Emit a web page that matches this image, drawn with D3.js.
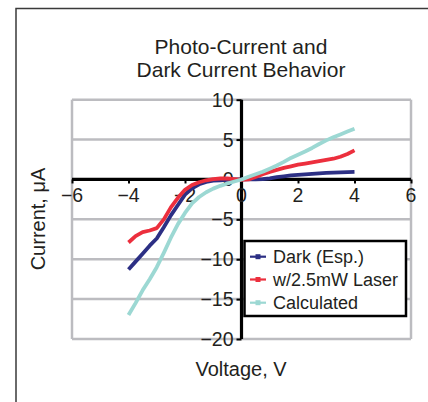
<!DOCTYPE html>
<html>
<head>
<meta charset="utf-8">
<script src="https://cdn.jsdelivr.net/npm/d3@7"></script>
<style>
  html, body { margin: 0; padding: 0; background: #fff; }
  svg { display: block; }
  text { font-family: "Liberation Sans", Arial, Helvetica, sans-serif; fill: #231f20; }
</style>
</head>
<body>
<svg id="chart" width="428" height="402"></svg>
<script>
// ---- data ----
const titleLines = ["Photo-Current and", "Dark Current Behavior"];
const xLabel = "Voltage, V";
const yLabel = "Current, μA";
const xTicks = [-6, -4, -2, 0, 2, 4, 6];
const yTicks = [10, 5, 0, -5, -10, -15, -20];
const seriesNames = ["Dark (Esp.)", "w/2.5mW Laser", "Calculated"];
const seriesColors = ["#2c2f84", "#ec2f3d", "#9cd8d3"];
const voltage = [-4, -3.75, -3.5, -3.25, -3, -2.75, -2.5, -2.25, -2, -1.75, -1.5, -1.25, -1, -0.75, -0.5, -0.25,
  0, 0.25, 0.5, 0.75, 1, 1.25, 1.5, 1.75, 2, 2.25, 2.5, 2.75, 3, 3.25, 3.5, 3.75, 4];
const darkCurrent = [-11.3, -10.3, -9.3, -8.3, -7.4, -6.0, -4.5, -3.2, -1.9, -1.1, -0.6, -0.3, -0.15, -0.1, -0.05, -0.02,
  0, 0, 0.02, 0.05, 0.15, 0.3, 0.4, 0.5, 0.57, 0.63, 0.7, 0.77, 0.82, 0.87, 0.9, 0.93, 0.95];
const laserCurrent = [-7.9, -7.1, -6.6, -6.4, -6.1, -5.0, -3.5, -2.3, -1.3, -0.7, -0.35, -0.1, 0.05, 0.12, 0.12, 0.05,
  -0.05, 0, 0.3, 0.65, 0.95, 1.2, 1.45, 1.65, 1.85, 2.0, 2.15, 2.3, 2.45, 2.6, 2.85, 3.2, 3.65];
const calcCurrent = [-17.0, -15.5, -13.9, -12.5, -11.0, -9.2, -7.3, -5.6, -4.2, -3.0, -2.2, -1.6, -1.15, -0.8, -0.5, -0.25,
  0, 0.35, 0.65, 0.97, 1.35, 1.75, 2.2, 2.7, 3.1, 3.5, 3.95, 4.45, 4.9, 5.3, 5.65, 6.0, 6.35];
const seriesValues = [darkCurrent, laserCurrent, calcCurrent];

// ---- layout ----
const svg = d3.select("#chart");
const x = d3.scaleLinear().domain([-6, 6]).range([72, 411]);
const y = d3.scaleLinear().domain([-20, 10]).range([339, 99.7]);
const gridColor = "#bcbcc0";

// outer frame (left + top)
svg.append("path")
  .attr("d", `M16,402 L16,8.5 L428,8.5`)
  .attr("fill", "none").attr("stroke", "#3a3a3a").attr("stroke-width", 1.5);

// title
svg.append("text")
  .attr("x", 241).attr("y", 53.5)
  .attr("text-anchor", "middle").attr("font-size", 21)
  .selectAll("tspan").data(titleLines).join("tspan")
  .attr("x", 241).attr("dy", (d, i) => i === 0 ? 0 : 23)
  .text(d => d);

// gridlines
svg.append("g").selectAll("line").data(yTicks).join("line")
  .attr("x1", x(-6)).attr("x2", x(6))
  .attr("y1", d => y(d)).attr("y2", d => y(d))
  .attr("stroke", gridColor).attr("stroke-width", 2.5);
// plot border verticals
svg.append("g").selectAll("line").data([-6, 6]).join("line")
  .attr("x1", d => x(d)).attr("x2", d => x(d))
  .attr("y1", y(10)).attr("y2", y(-20))
  .attr("stroke", gridColor).attr("stroke-width", 2.5);

// axes through origin
const xAxis = d3.axisBottom(x).tickValues(xTicks).tickSize(4).tickFormat(() => "");
const gx = svg.append("g").attr("transform", `translate(0,${y(0)})`).call(xAxis);
gx.select(".domain").attr("stroke", "#000").attr("stroke-width", 3.2).attr("d", `M${x(-6)},0H${x(6)}`);
gx.selectAll(".tick line").attr("stroke", "#000").attr("stroke-width", 2);

const yAxis = d3.axisLeft(y).tickValues(yTicks).tickSize(5).tickFormat(() => "");
const gy = svg.append("g").attr("transform", `translate(${x(0)},0)`).call(yAxis);
gy.select(".domain").attr("stroke", "#000").attr("stroke-width", 3.2).attr("d", `M0,${y(10)}V${y(-20)}`);
gy.selectAll(".tick line").attr("stroke", "#000").attr("stroke-width", 2);

const fmt = d => d < 0 ? "\u2212" + Math.abs(d) : String(d);

// x tick labels
svg.append("g").selectAll("text").data(xTicks).join("text")
  .attr("x", d => x(d)).attr("y", 202)
  .attr("text-anchor", "middle").attr("font-size", 19.5)
  .text(fmt);
// y tick labels
svg.append("g").selectAll("text").data(yTicks).join("text")
  .attr("x", 233.5).attr("y", d => y(d)).attr("dy", "0.355em")
  .attr("text-anchor", "end").attr("font-size", 19.5)
  .text(fmt);

// axis titles
svg.append("text").attr("x", 241).attr("y", 375.5)
  .attr("text-anchor", "middle").attr("font-size", 20).text(xLabel);
svg.append("text").attr("transform", "translate(45,219) rotate(-90)")
  .attr("text-anchor", "middle").attr("font-size", 20).text(yLabel);

// series
const line = d3.line().x(d => x(d[0])).y(d => y(d[1]));
seriesValues.forEach((vals, i) => {
  const pts = voltage.map((v, j) => [v, vals[j]]);
  svg.append("path").datum(pts)
    .attr("d", line)
    .attr("fill", "none")
    .attr("stroke", seriesColors[i])
    .attr("stroke-width", 3.8)
    .attr("stroke-linejoin", "round");
});

// legend
const lg = svg.append("g");
lg.append("rect").attr("x", 244.5).attr("y", 241).attr("width", 161.5).attr("height", 75)
  .attr("fill", "#fff").attr("stroke", "#000").attr("stroke-width", 2.5);
const rowY = [256.7, 279.5, 302.7];
seriesNames.forEach((name, i) => {
  lg.append("line").attr("x1", 250).attr("x2", 266).attr("y1", rowY[i]).attr("y2", rowY[i])
    .attr("stroke", seriesColors[i]).attr("stroke-width", 2.2);
  lg.append("rect").attr("x", 255.5).attr("y", rowY[i] - 2.5).attr("width", 5).attr("height", 5)
    .attr("fill", seriesColors[i]);
  lg.append("text").attr("x", 273).attr("y", rowY[i]).attr("dy", "0.36em")
    .attr("font-size", 18).text(name);
});
</script>
</body>
</html>
